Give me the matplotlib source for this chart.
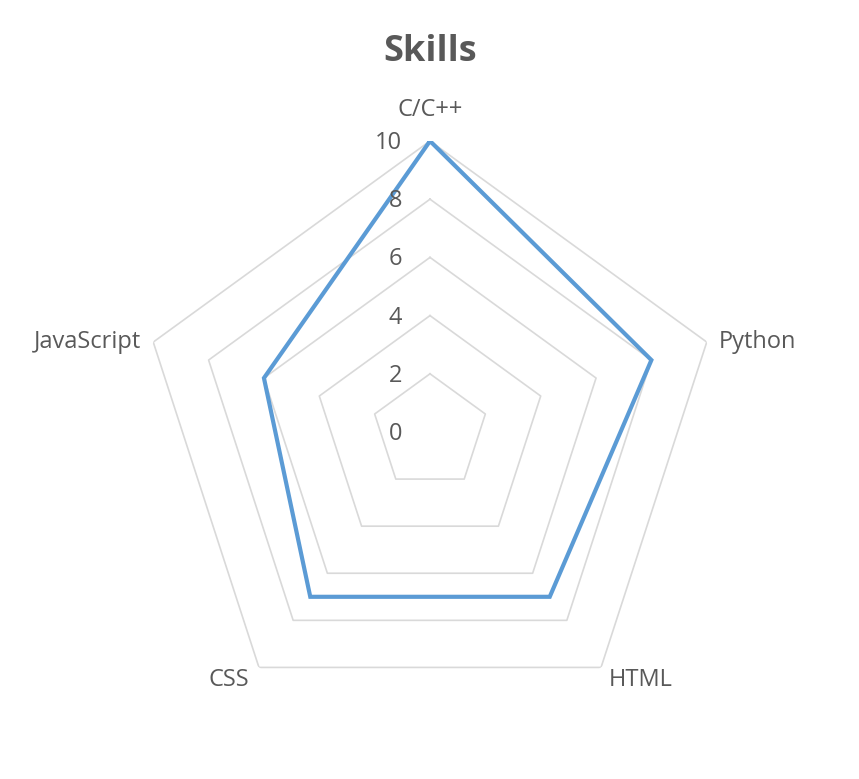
import numpy as np
import matplotlib.pyplot as plt

categories = ["C/C++", "Python", "HTML", "CSS", "JavaScript"]
values = [10, 8, 7, 7, 6]
rings = [2, 4, 6, 8, 10]
tick_labels = ["0", "2", "4", "6", "8", "10"]

plt.rcParams['font.family'] = ['Open Sans', 'DejaVu Sans']
text_color = "#595959"
grid_color = "#D9D9D9"
line_color = "#5B9BD5"

W, H = 859, 779
fig = plt.figure(figsize=(W / 100, H / 100), dpi=100)
cx, cy, R = 430, 432, 291
ax = fig.add_axes([(cx - R) / W, (H - cy - R) / H, 2 * R / W, 2 * R / H], polar=True)
ax.set_theta_zero_location('N')
ax.set_theta_direction(-1)

n = len(categories)
theta = np.linspace(0, 2 * np.pi, n, endpoint=False)
theta_c = np.append(theta, theta[0])

for r in rings:
    ax.plot(theta_c, [r] * (n + 1), color=grid_color, lw=1.2, zorder=1)

vals = values + values[:1]
ax.plot(theta_c, vals, color=line_color, lw=3, zorder=3, solid_joinstyle='miter')

ax.set_ylim(0, 10)
ax.grid(False)
ax.spines['polar'].set_visible(False)
ax.set_xticks([])
ax.set_yticks([])
ax.patch.set_alpha(0)

for i, lab in enumerate(tick_labels):
    ax.annotate(lab, (0, i * 2), xytext=(-28, -2), textcoords='offset pixels',
                ha='right', va='center', fontsize=17, color=text_color)

offsets = [(0, 31, 'center'), (12, 0, 'left'), (40, -13, 'center'),
           (-30, -13, 'center'), (-12, 0, 'right')]
for t, lab, (dx, dy, ha) in zip(theta, categories, offsets):
    ax.annotate(lab, (t, 10), xytext=(dx, dy), textcoords='offset pixels',
                ha=ha, va='center', fontsize=17, color=text_color)

fig.text(cx / W, 1 - 52 / H, "Skills", ha='center', va='center',
         fontsize=26, fontweight='bold', color=text_color)

fig.savefig("out.png", dpi=100)
